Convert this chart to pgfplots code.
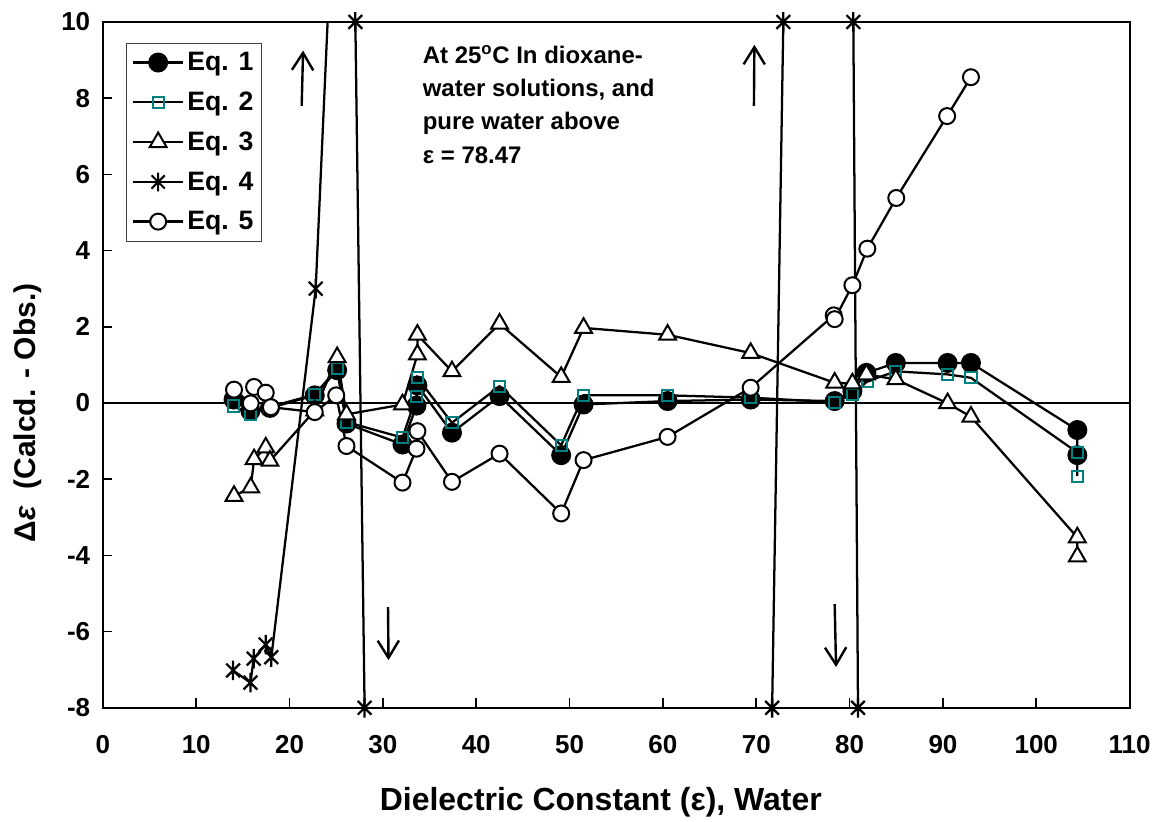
\documentclass[border=0pt]{standalone}
\usepackage{fontspec}
\setmainfont{Liberation Sans}
\usepackage{pgfplots}
\pgfplotsset{compat=1.18}
\usetikzlibrary{arrows.meta}
\definecolor{eqteal}{RGB}{0,128,128}

% Excel-style star: an X with a vertical bar
\pgfdeclareplotmark{xstar}{%
  \pgfpathmoveto{\pgfqpointpolar{45}{\pgfplotmarksize}}%
  \pgfpathlineto{\pgfqpointpolar{225}{\pgfplotmarksize}}%
  \pgfpathmoveto{\pgfqpointpolar{135}{\pgfplotmarksize}}%
  \pgfpathlineto{\pgfqpointpolar{315}{\pgfplotmarksize}}%
  \pgfpathmoveto{\pgfqpoint{0pt}{\pgfplotmarksize}}%
  \pgfpathlineto{\pgfqpoint{0pt}{-\pgfplotmarksize}}%
  \pgfusepathqstroke}

\begin{document}
\begin{tikzpicture}
\begin{axis}[
    scale only axis, width=771pt, height=515pt,
    xmin=0, xmax=110, ymin=-8, ymax=10,
    xtick={0,10,...,110}, ytick={-8,-6,...,10},
    xtick pos=left, ytick pos=left,
    tick align=inside, major tick length=7pt,
    tick style={black, line width=1.2pt},
    axis line style={line width=1.5pt},
    /pgf/number format/assume math mode=true,
    tick label style={font=\bfseries\fontsize{19.5}{22}\selectfont},
    xticklabel style={yshift=-17pt},
    yticklabel style={xshift=-6pt},
    xlabel={Dielectric Constant (ε), Water},
    ylabel={Δ\textit{ε}\ \ (Calcd. - Obs.)},
    every axis x label/.style={at={(axis description cs:0.485,-0.138)}, anchor=center,
      font=\bfseries\fontsize{24}{27}\selectfont},
    every axis y label/.style={at={(axis description cs:-0.073,0.43)}, rotate=90, anchor=center,
      font=\bfseries\fontsize{22.5}{25}\selectfont},
    legend style={at={(axis description cs:0.0224,0.97)}, anchor=north west,
      draw=black!75, line width=0.8pt, font=\bfseries\fontsize{20}{23}\selectfont,
      row sep=10.5pt, inner xsep=4pt, inner ysep=5pt},
    legend cell align=left,
    legend image code/.code={%
      \draw[mark repeat=2, mark phase=2, #1]
        plot coordinates {(0pt,0pt) (19pt,0pt) (38pt,0pt)};},
    every axis plot/.append style={line width=1.7pt},
  ]
  \draw[line width=1.2pt] (axis cs:0,0) -- (axis cs:110,0);

  % Eq. 1
  \addplot[black, mark=*, mark size=7pt, mark options={fill=black, line width=1pt}]
  coordinates {(14.0,0.09) (15.8,-0.21) (17.9,-0.13) (22.7,0.2) (25.1,0.86) (26.1,-0.54)
    (32.1,-1.09) (33.6,-0.07) (33.7,0.46) (37.4,-0.78) (42.5,0.18) (49.1,-1.37)
    (51.5,-0.04) (60.5,0.05) (69.4,0.09) (78.4,0.05) (80.3,0.31) (81.8,0.79)
    (84.95,1.05) (90.5,1.05) (93.0,1.05) (104.4,-0.71) (104.4,-1.37)};
  \addlegendentry{Eq. 1}

  % Eq. 2
  \addplot[black, mark=square, mark size=4.2pt, mark options={draw=eqteal, fill=none, line width=1.5pt}]
  coordinates {(14.0,-0.08) (15.8,-0.3) (17.9,-0.1) (22.7,0.22) (25.1,0.9) (26.1,-0.5)
    (32.1,-0.91) (33.6,0.18) (33.7,0.66) (37.4,-0.52) (42.5,0.44) (49.1,-1.11)
    (51.5,0.2) (60.5,0.2) (69.4,0.14) (78.4,0.02) (80.3,0.22) (81.9,0.57)
    (84.95,0.83) (90.5,0.75) (93.0,0.66) (104.4,-1.3) (104.4,-1.92)};
  \addlegendentry{Eq. 2}

  % Eq. 3
  \addplot[black, mark=triangle*, mark size=7.3pt, mark options={fill=white, line width=1.5pt}]
  coordinates {(14.05,-2.44) (15.84,-2.22) (16.2,-1.48) (17.45,-1.17) (17.9,-1.52)
    (22.7,-0.2) (25.1,1.2) (26.1,-0.3) (32.1,-0.04) (33.7,1.27) (33.7,1.79)
    (37.4,0.83) (42.5,2.08) (49.1,0.68) (51.5,1.97) (60.5,1.79) (69.4,1.31)
    (78.4,0.53) (80.3,0.51) (81.8,0.75) (84.95,0.62) (90.5,-0.01) (93.0,-0.36)
    (104.4,-3.53) (104.4,-4.03)};
  \addlegendentry{Eq. 3}

  % Eq. 4: the line runs off the chart; marks only where they show
  \addplot[black, no markers, forget plot]
  coordinates {(13.95,-7.02) (15.81,-7.34) (16.16,-6.71) (17.44,-6.34) (18.05,-6.67)
    (22.8,3.0) (25.1,15.6) (27.05,10) (28.04,-8) (49.1,-30) (71.7,-8) (72.9,10)
    (76.5,30) (80.4,10) (80.9,-8) (90.5,-30)};
  \addplot[black, only marks, mark=xstar, mark size=7.3pt, mark options={line width=1.7pt}, forget plot]
  coordinates {(13.95,-7.02) (15.81,-7.34) (16.16,-6.71) (17.44,-6.34) (18.05,-6.67)
    (22.8,3.0) (27.05,10) (28.04,-8) (71.7,-8) (72.9,10) (80.4,10) (80.9,-8)};
  \addlegendimage{black, line width=1.7pt, mark=xstar, mark size=7pt, mark options={line width=1.5pt}}
  \addlegendentry{Eq. 4}

  % Eq. 5
  \addplot[black, mark=*, mark size=6pt, mark options={fill=white, line width=1.5pt}]
  coordinates {(14.05,0.35) (15.84,-0.01) (16.2,0.42) (17.45,0.27) (18.0,-0.11)
    (22.7,-0.24) (25.0,0.2) (26.1,-1.13) (32.1,-2.09) (33.6,-1.2) (33.7,-0.74)
    (37.4,-2.07) (42.5,-1.33) (49.1,-2.9) (51.5,-1.5) (60.5,-0.89) (69.4,0.4)
    (78.3,2.3) (78.4,2.2) (80.3,3.09) (81.9,4.05) (85.0,5.38) (90.45,7.53) (93.0,8.55)};
  \addlegendentry{Eq. 5}

  % direction arrows
  \draw[line width=1.8pt, -{Straight Barb[length=13pt,width=16pt]}] (axis cs:21.3,7.8) -- (axis cs:21.45,9.25);
  \draw[line width=1.8pt, -{Straight Barb[length=13pt,width=16pt]}] (axis cs:69.75,7.8) -- (axis cs:69.8,9.4);
  \draw[line width=1.8pt, -{Straight Barb[length=13pt,width=16pt]}] (axis cs:30.55,-5.36) -- (axis cs:30.6,-6.75);
  \draw[line width=1.8pt, -{Straight Barb[length=13pt,width=16pt]}] (axis cs:78.4,-5.28) -- (axis cs:78.55,-6.93);

  \node[anchor=north west, inner sep=0pt, align=left,
        font=\bfseries\fontsize{18}{25}\selectfont]
    at (axis cs:34.25,9.38)
    {At 25\textsuperscript{o}C In dioxane-\\water solutions, and\\pure water above\\ε = 78.47};
\end{axis}
% page margins as in the reference
\path (-77.25pt,-79.5pt) rectangle (789pt,531.5pt);
\end{tikzpicture}
\end{document}
